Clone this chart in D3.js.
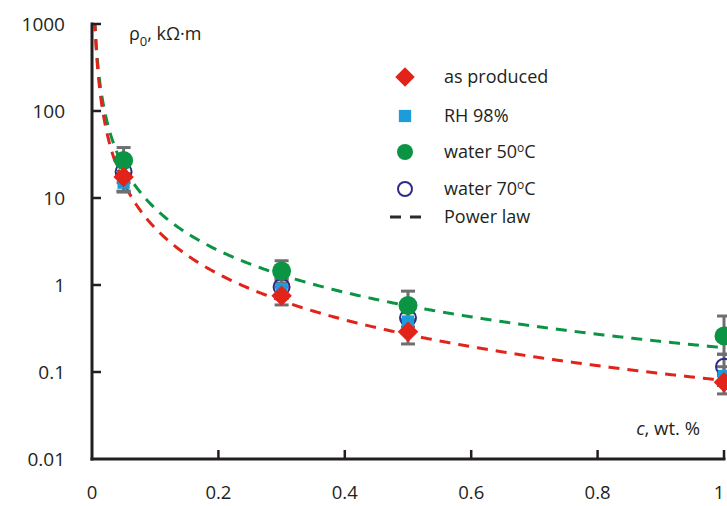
<!DOCTYPE html>
<html>
<head>
<meta charset="utf-8">
<script src="https://cdn.jsdelivr.net/npm/d3@7"></script>
<style>
  html, body { margin: 0; padding: 0; background: #fff; }
  svg { display: block; font-family: "Open Sans", "DejaVu Sans", sans-serif; }
</style>
</head>
<body>
<svg id="chart" width="727" height="506"></svg>
<script>
// Concentration (wt. %) at which each sample set was measured
const concentrations = [0.05, 0.3, 0.5, 1.0];

// Resistivity ρ0 (kΩ·m) for each treatment
const asProduced = [17.4, 0.75, 0.29, 0.076];
const rh98 = [15.0, 0.9, 0.38, 0.09];
const water50 = [27, 1.45, 0.58, 0.26];
const water70 = [20, 0.95, 0.42, 0.115];

// Error ranges (low, high) per treatment
const asProducedErr = [[11.7, 23], [0.59, 0.95], [0.21, 0.37], [0.056, 0.095]];
const rh98Err = [[12, 19], [0.7, 1.15], [0.3, 0.48], [0.07, 0.115]];
const water50Err = [[19, 38], [1.05, 1.9], [0.4, 0.85], [0.16, 0.44]];
const water70Err = [[15, 27], [0.75, 1.2], [0.33, 0.52], [0.09, 0.16]];

// Power-law fits ρ0 = a·c^b
const fitRed = { a: 0.08, b: -1.75 };
const fitGreen = { a: 0.19, b: -1.6 };

const xTicks = [0, 0.2, 0.4, 0.6, 0.8, 1];
const xTickLabels = ["0", "0.2", "0.4", "0.6", "0.8", "1"];
const yTicks = [0.01, 0.1, 1, 10, 100, 1000];
const yTickLabels = ["0.01", "0.1", "1", "10", "100", "1000"];

const legendLabels = ["as produced", "RH 98%", "water 50", "water 70", "Power law"];

const colors = {
  red: "#e2231a",
  blue: "#1b9ddb",
  green: "#0b9444",
  navy: "#2e2a87",
  err: "#6f6f6f",
  axis: "#231f20"
};

const svg = d3.select("#chart");

const x = d3.scaleLinear().domain([0, 1]).range([92, 724]);
const y = d3.scaleLog().domain([0.01, 1000]).range([459, 24]);

svg.append("defs").append("clipPath").attr("id", "plot")
  .append("rect").attr("x", 92).attr("y", 24).attr("width", 640).attr("height", 435);

// Power-law curves
function fitPoints(fit) {
  const pts = [];
  for (let px = 93; px <= 724; px += 1) {
    const c = x.invert(px);
    pts.push([c, fit.a * Math.pow(c, fit.b)]);
  }
  return pts;
}
const line = d3.line().x(d => x(d[0])).y(d => y(Math.min(d[1], 5000)));

const curves = svg.append("g").attr("clip-path", "url(#plot)");
curves.append("path").datum(fitPoints(fitGreen))
  .attr("d", line).attr("fill", "none").attr("stroke", colors.green)
  .attr("stroke-width", 3).attr("stroke-dasharray", "11,8");
curves.append("path").datum(fitPoints(fitRed))
  .attr("d", line).attr("fill", "none").attr("stroke", colors.red)
  .attr("stroke-width", 3).attr("stroke-dasharray", "11,8");

// Error bars
const errGroup = svg.append("g");
function drawErrors(errs) {
  errs.forEach((e, i) => {
    const cx = x(concentrations[i]);
    errGroup.append("line").attr("x1", cx).attr("x2", cx)
      .attr("y1", y(e[0])).attr("y2", y(e[1]))
      .attr("stroke", colors.err).attr("stroke-width", 3);
    [e[0], e[1]].forEach(v => {
      errGroup.append("line").attr("x1", cx - 7).attr("x2", cx + 7)
        .attr("y1", y(v)).attr("y2", y(v))
        .attr("stroke", colors.err).attr("stroke-width", 3);
    });
  });
}
drawErrors(water50Err);
drawErrors(water70Err);
drawErrors(rh98Err);
drawErrors(asProducedErr);

// Markers
const markers = svg.append("g");
const sqSym = d3.symbol().type(d3.symbolSquare).size(150);
const diaSym = d3.symbol().type(d3.symbolSquare).size(210);

water70.forEach((v, i) => {
  markers.append("circle").attr("cx", x(concentrations[i])).attr("cy", y(v))
    .attr("r", 8).attr("fill", "none").attr("stroke", colors.navy).attr("stroke-width", 2);
});
rh98.forEach((v, i) => {
  markers.append("path").attr("d", sqSym)
    .attr("transform", `translate(${x(concentrations[i])},${y(v)})`)
    .attr("fill", colors.blue);
});
water50.forEach((v, i) => {
  markers.append("circle").attr("cx", x(concentrations[i])).attr("cy", y(v))
    .attr("r", 9.5).attr("fill", colors.green);
});
asProduced.forEach((v, i) => {
  markers.append("path").attr("d", diaSym)
    .attr("transform", `translate(${x(concentrations[i])},${y(v)}) rotate(45)`)
    .attr("fill", colors.red);
});

// Axes
const axisG = svg.append("g");
axisG.append("line").attr("x1", 92).attr("x2", 92).attr("y1", 22.5).attr("y2", 460.5)
  .attr("stroke", colors.axis).attr("stroke-width", 3);
axisG.append("line").attr("x1", 90.5).attr("x2", 725.5).attr("y1", 459).attr("y2", 459)
  .attr("stroke", colors.axis).attr("stroke-width", 3);

yTicks.forEach((t, i) => {
  if (i > 0) {
    axisG.append("line").attr("x1", 92).attr("x2", 101).attr("y1", y(t)).attr("y2", y(t))
      .attr("stroke", colors.axis).attr("stroke-width", 2.5);
  }
  axisG.append("text").attr("x", 65).attr("y", y(t) + 7)
    .attr("text-anchor", "end").attr("font-size", 19).attr("fill", colors.axis)
    .text(yTickLabels[i]);
});
xTicks.forEach((t, i) => {
  if (i > 0) {
    axisG.append("line").attr("x1", x(t)).attr("x2", x(t)).attr("y1", 459).attr("y2", 450)
      .attr("stroke", colors.axis).attr("stroke-width", 2.5);
  }
  axisG.append("text").attr("x", Math.min(x(t), 719)).attr("y", 499)
    .attr("text-anchor", "middle").attr("font-size", 18.5).attr("fill", colors.axis)
    .text(xTickLabels[i]);
});

// Axis titles
const yTitle = svg.append("text").attr("x", 129).attr("y", 40)
  .attr("font-size", 18).attr("fill", colors.axis);
yTitle.append("tspan").text("ρ");
yTitle.append("tspan").attr("dy", 6).attr("font-size", 13).text("0");
yTitle.append("tspan").attr("dy", -6).text(", kΩ·m");

const xTitle = svg.append("text").attr("x", 700).attr("y", 435)
  .attr("text-anchor", "end").attr("font-size", 18.5).attr("fill", colors.axis);
xTitle.append("tspan").attr("font-style", "italic").text("c");
xTitle.append("tspan").text(", wt. %");

// Legend
const leg = svg.append("g");
const legX = 405, legTextX = 444;
const rows = [77, 116, 152, 189, 217];

leg.append("path").attr("d", d3.symbol().type(d3.symbolSquare).size(190))
  .attr("transform", `translate(${legX},${rows[0]}) rotate(45)`).attr("fill", colors.red);
leg.append("path").attr("d", d3.symbol().type(d3.symbolSquare).size(150))
  .attr("transform", `translate(${legX},${rows[1]})`).attr("fill", colors.blue);
leg.append("circle").attr("cx", legX).attr("cy", rows[2]).attr("r", 8).attr("fill", colors.green);
leg.append("circle").attr("cx", legX).attr("cy", rows[3]).attr("r", 7)
  .attr("fill", "none").attr("stroke", colors.navy).attr("stroke-width", 2);
leg.append("line").attr("x1", legX - 15).attr("x2", legX + 16).attr("y1", rows[4]).attr("y2", rows[4])
  .attr("stroke", "#2b2b2b").attr("stroke-width", 3).attr("stroke-dasharray", "11,9");

legendLabels.forEach((lab, i) => {
  const t = leg.append("text").attr("x", legTextX).attr("y", rows[i] + 6)
    .attr("font-size", 18).attr("fill", colors.axis);
  if (i === 2 || i === 3) {
    t.append("tspan").text(lab);
    t.append("tspan").attr("font-size", 12).attr("dy", -6).text("o");
    t.append("tspan").attr("dy", 6).text("C");
  } else {
    t.text(lab);
  }
});
</script>
</body>
</html>
